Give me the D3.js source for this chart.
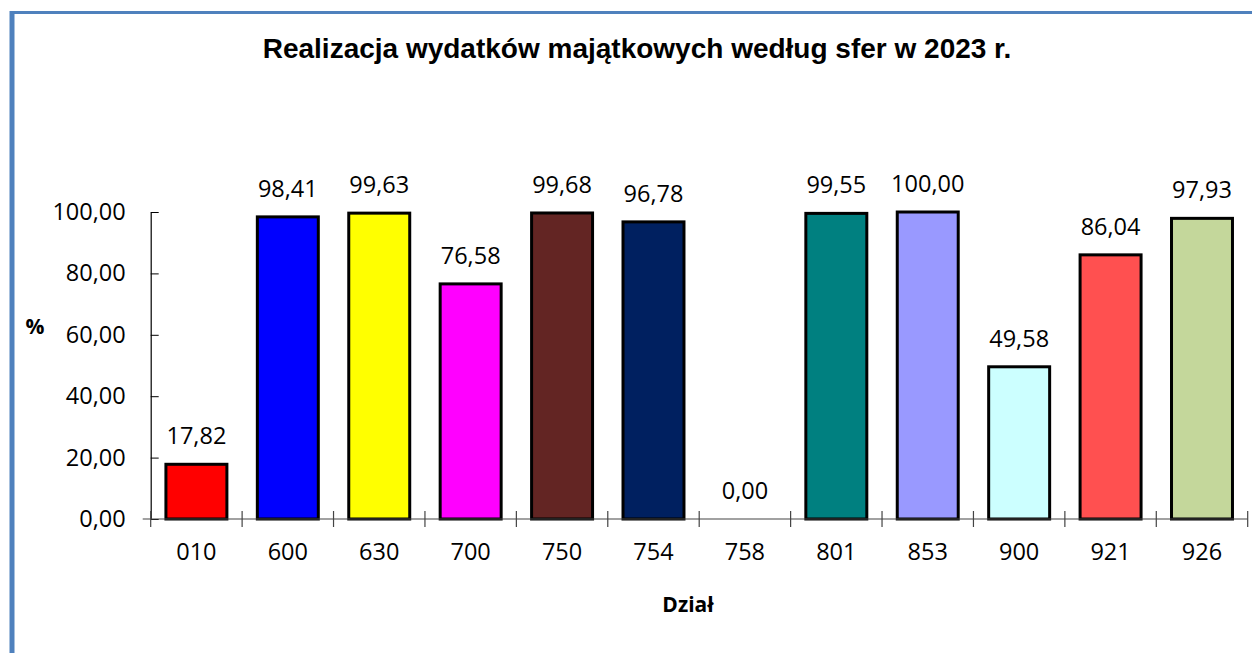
<!DOCTYPE html>
<html>
<head>
<meta charset="utf-8">
<script src="https://cdn.jsdelivr.net/npm/d3@7"></script>
<style>
  html, body { margin: 0; padding: 0; background: #fff; }
  svg { display: block; }
</style>
</head>
<body>
<svg id="chart" width="1252" height="653"></svg>
<script>
// data
const categories = ["010", "600", "630", "700", "750", "754", "758", "801", "853", "900", "921", "926"];
const values = [17.82, 98.41, 99.63, 76.58, 99.68, 96.78, 0.00, 99.55, 100.00, 49.58, 86.04, 97.93];
const barColors = ["#ff0000", "#0000ff", "#ffff00", "#ff00ff", "#632523", "#002060",
                   "#808080", "#008080", "#9999ff", "#ccffff", "#ff5050", "#c4d79b"];
const yTicks = [0, 20, 40, 60, 80, 100];

const svg = d3.select("#chart");
const margin = {left: 150.7, right: 4.3, top: 212, bottom: 134};
const W = 1252, H = 653;

const labelFont = "'Open Sans', 'Noto Sans', sans-serif";
const labelSize = 23.5;
const fmt = v => v.toFixed(2).replace(".", ",");

// frame (only the top and left edges fall inside the window)
svg.append("line").attr("x1", 12).attr("x2", W).attr("y1", 12.5).attr("y2", 12.5)
  .attr("stroke", "#4f81bd").attr("stroke-width", 3);
svg.append("line").attr("x1", 12).attr("x2", 12).attr("y1", 11).attr("y2", H)
  .attr("stroke", "#4f81bd").attr("stroke-width", 5);

const x = d3.scaleBand()
  .domain(categories)
  .range([margin.left, W - margin.right])
  .paddingInner(0.333)
  .paddingOuter(0.1665);

const y = d3.scaleLinear()
  .domain([0, 100])
  .range([H - margin.bottom, margin.top]);

// title
svg.append("text")
  .attr("x", 637).attr("y", 58)
  .attr("text-anchor", "middle")
  .attr("font-family", "'Liberation Sans', Arial, sans-serif")
  .attr("font-weight", "bold")
  .attr("font-size", 28)
  .text("Realizacja wydatków majątkowych według sfer w 2023 r.");

// bars
svg.append("g").selectAll("rect")
  .data(values)
  .join("rect")
    .attr("x", (d, i) => x(categories[i]))
    .attr("y", d => y(d))
    .attr("width", x.bandwidth())
    .attr("height", d => y(0) - y(d))
    .attr("fill", (d, i) => barColors[i])
    .attr("stroke", "#000")
    .attr("stroke-width", d => d > 0 ? 3 : 0);

// value labels
svg.append("g").selectAll("text")
  .data(values)
  .join("text")
    .attr("x", (d, i) => x(categories[i]) + x.bandwidth() / 2)
    .attr("y", d => y(d) - 20)
    .attr("text-anchor", "middle")
    .attr("font-family", labelFont)
    .attr("font-size", labelSize)
    .attr("fill", "#000")
    .text(d => fmt(d));

// y axis
const yAxis = svg.append("g")
  .attr("transform", `translate(${margin.left},0)`)
  .call(d3.axisLeft(y).tickValues(yTicks).tickFormat(fmt).tickSize(8).tickSizeOuter(0).tickPadding(17));
yAxis.select(".domain").attr("stroke", "#000").attr("stroke-width", 1.2);
yAxis.selectAll(".tick line").attr("x2", 8).attr("stroke", "#000");
yAxis.selectAll(".tick text").attr("font-family", labelFont).attr("font-size", labelSize).attr("fill", "#000");

// x axis: ticks sit on category boundaries
const xAxis = svg.append("g").attr("transform", `translate(0,${y(0)})`);
xAxis.append("line")
  .attr("x1", margin.left - 8).attr("x2", W - margin.right)
  .attr("stroke", "#444").attr("stroke-width", 1.2);
const step = x.step();
const bounds = d3.range(categories.length + 1).map(i => margin.left + i * step);
xAxis.selectAll(".xt").data(bounds).join("line")
  .attr("class", "xt")
  .attr("x1", d => d).attr("x2", d => d)
  .attr("y1", -8).attr("y2", 8)
  .attr("stroke", "#444").attr("stroke-width", 1.2);
xAxis.selectAll(".xl").data(categories).join("text")
  .attr("class", "xl")
  .attr("x", d => x(d) + x.bandwidth() / 2)
  .attr("y", 35)
  .attr("text-anchor", "middle")
  .attr("dominant-baseline", "middle")
  .attr("font-family", labelFont)
  .attr("font-size", labelSize)
  .text(d => d);

// axis titles
svg.append("text")
  .attr("x", 35).attr("y", 334)
  .attr("text-anchor", "middle")
  .attr("font-family", labelFont)
  .attr("font-weight", "bold")
  .attr("font-size", 21)
  .text("%");
svg.append("text")
  .attr("x", 688).attr("y", 612)
  .attr("text-anchor", "middle")
  .attr("font-family", labelFont)
  .attr("font-weight", "bold")
  .attr("font-size", 21)
  .text("Dział");
</script>
</body>
</html>
